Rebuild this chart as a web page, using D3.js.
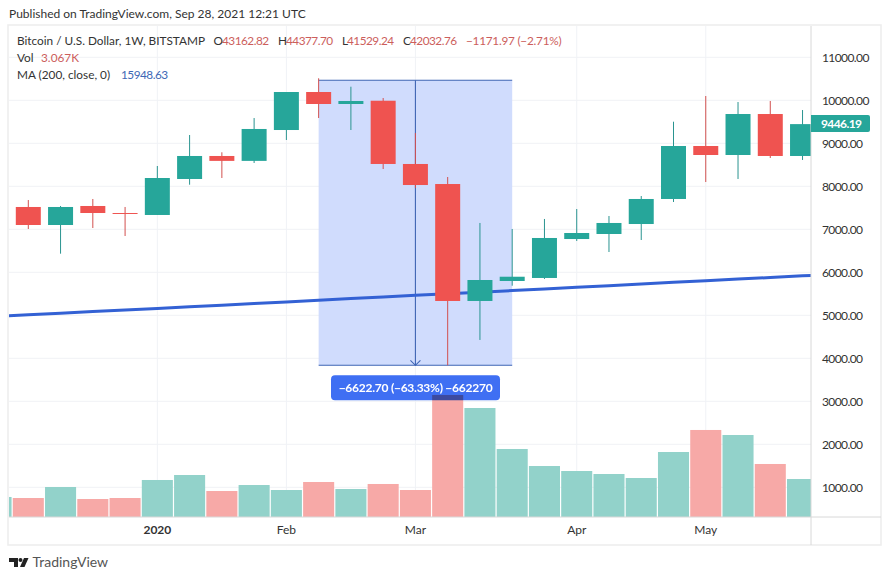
<!DOCTYPE html>
<html>
<head>
<meta charset="utf-8">
<script src="https://cdn.jsdelivr.net/npm/d3@7"></script>
<style>
  html, body { margin: 0; padding: 0; background: #fff; }
  svg { display: block; }
  text { font-family: Lato, "Open Sans", sans-serif; font-size: 12px; fill: #333; }
  .domain { display: none; }
</style>
</head>
<body>
<svg width="890" height="572"></svg>
<script>
const weeks = ["2019-11-25","2019-12-02","2019-12-09","2019-12-16","2019-12-23","2019-12-30","2020-01-06","2020-01-13","2020-01-20","2020-01-27","2020-02-03","2020-02-10","2020-02-17","2020-02-24","2020-03-02","2020-03-09","2020-03-16","2020-03-23","2020-03-30","2020-04-06","2020-04-13","2020-04-20","2020-04-27","2020-05-04","2020-05-11","2020-05-18","2020-05-25"]
const opens  = [7100,7519,7100,7542,7379,7333,8170,8705,8591,9309,10193,9914,9990,8519,8053,5333,5798,5868,6774,6891,7123,7705,8937,8728,9681,8705]
const highs  = [7700,7681,7542,7705,7519,8472,9193,8791,9588,10193,10512,10316,10053,9240,8216,7147,7007,7240,7472,7309,7774,9502,10100,9960,9984,9774]
const lows   = [6850,7007,6433,7030,6844,7333,8037,8193,8542,9077,9588,9309,8402,7960,3837,4427,5688,5845,6728,6472,6751,7635,8100,8170,8658,8612]
const closes = [7519,7100,7519,7379,7356,8193,8705,8591,9333,10193,9914,9984,8519,8030,5333,5821,5897,6798,6914,7147,7705,8937,8728,9681,8705,9446.19]
const volumes = [775,751,1007,728,751,1170,1286,914,1053,937,1123,960,1077,937,3147,2844,1891,1495,1379,1309,1216,1821,2333,2216,1542,1193]
const maLine = [4975,5010,5048,5086,5122,5160,5198,5236,5274,5312,5350,5388,5426,5464,5500,5538,5576,5614,5652,5690,5728,5766,5804,5842,5880,5918,5956]

const priceTicks = [11000,10000,9000,8000,7000,6000,5000,4000,3000,2000,1000]
const monthWeeks = ["2019-12-30","2020-01-27","2020-02-24","2020-03-30","2020-04-27"]
const monthNames = ["2020","Feb","Mar","Apr","May"]

const measureFrom = 10465
const measureTo = 3837
const measureWeeks = ["2020-02-03","2020-03-16"]
const measureLabel = "\u22126622.70 (\u221263.33%) \u2212662270"
const lastPrice = 9446.19

const up = "#26a69a", down = "#ef5350"
const upWick = "#2a9490", downWick = "#d2504f"
const upVol = "#92d2ca", downVol = "#f7a9a7"

const plotLeft = 9, plotRight = 811, plotTop = 26, volBottom = 517, axisBottom = 545, outerRight = 881
const barStep = 32.26

const svg = d3.select("svg")

const x = d3.scaleBand().domain(weeks).range([-20.09, -20.09 + 27 * barStep])
const cx = d => x(d) + x.bandwidth() / 2
const y = d3.scaleLinear().domain([11000, 1000]).range([57.3, 487.3])

svg.append("defs").append("clipPath").attr("id", "plot")
  .append("rect").attr("x", plotLeft).attr("y", plotTop).attr("width", plotRight - plotLeft).attr("height", volBottom - plotTop)

// title
svg.append("text").attr("x", 9).attr("y", 18).text("Published on TradingView.com, Sep 28, 2021 12:21 UTC")

// frame
svg.append("rect").attr("x", 8).attr("y", 25).attr("width", outerRight - 8).attr("height", axisBottom - 25)
  .attr("fill", "none").attr("stroke", "#eeeeee").attr("stroke-width", 1.6)

// grid
const grid = svg.append("g").attr("clip-path", "url(#plot)").attr("stroke", "#f0f2f6")
grid.selectAll(".h").data(priceTicks).enter().append("line")
  .attr("x1", plotLeft).attr("x2", plotRight).attr("y1", d => y(d)).attr("y2", d => y(d))
grid.selectAll(".v").data(monthWeeks).enter().append("line")
  .attr("x1", cx).attr("x2", cx).attr("y1", plotTop).attr("y2", volBottom)

const plot = svg.append("g").attr("clip-path", "url(#plot)")

// measure tool background
const mx0 = cx(measureWeeks[0]), mx1 = cx(measureWeeks[1]), mmid = (mx0 + mx1) / 2
plot.append("rect").attr("x", mx0).attr("width", mx1 - mx0)
  .attr("y", y(measureFrom)).attr("height", y(measureTo) - y(measureFrom)).attr("fill", "#d0dcfd")

const measure = plot.append("g").attr("stroke", "#3f66b4").attr("fill", "none").attr("stroke-width", 1.1)
measure.selectAll("line").data([measureFrom, measureTo]).enter().append("line")
  .attr("x1", mx0).attr("x2", mx1).attr("y1", d => y(d)).attr("y2", d => y(d))
measure.append("line").attr("x1", mmid).attr("x2", mmid).attr("y1", y(measureFrom)).attr("y2", y(measureTo))
measure.append("path").attr("d", d3.line()([[mmid - 5, y(measureTo) - 5], [mmid, y(measureTo)], [mmid + 5, y(measureTo) - 5]]))

// measure label sits under the volume bars
plot.append("rect").attr("x", 331).attr("y", y(measureTo) + 10).attr("width", 169).attr("height", 25).attr("rx", 4).attr("fill", "#3f6ff3")
plot.append("text").attr("x", 415.5).attr("y", y(measureTo) + 27).attr("text-anchor", "middle")
  .style("fill", "#fff").style("font-weight", 700).style("letter-spacing", "-0.25px").text(measureLabel)

// volume
plot.selectAll(".vol").data(volumes).enter().append("rect")
  .attr("x", (d, i) => x(weeks[i]) + 0.6)
  .attr("width", x.bandwidth() - 1.2)
  .attr("y", d => y(d))
  .attr("height", d => volBottom - y(d))
  .attr("fill", (d, i) => closes[i] >= opens[i] ? upVol : downVol)
  .style("mix-blend-mode", "multiply")

// moving average
plot.append("path").datum(maLine)
  .attr("d", d3.line().x((d, i) => cx(weeks[i])).y(d => y(d)))
  .attr("fill", "none").attr("stroke", "#3361d4").attr("stroke-width", 3)

// candles
const candles = plot.selectAll(".candle").data(opens).enter().append("g")
candles.append("line")
  .attr("x1", (d, i) => cx(weeks[i])).attr("x2", (d, i) => cx(weeks[i]))
  .attr("y1", (d, i) => y(highs[i])).attr("y2", (d, i) => y(lows[i]))
  .attr("stroke", (d, i) => closes[i] >= d ? upWick : downWick)
candles.append("rect")
  .attr("x", (d, i) => cx(weeks[i]) - 12.5).attr("width", 25)
  .attr("y", (d, i) => y(Math.max(d, closes[i])))
  .attr("height", (d, i) => Math.abs(y(d) - y(closes[i])))
  .attr("fill", (d, i) => closes[i] >= d ? up : down)

// axes
svg.append("g").attr("stroke", "#d8d8d8").selectAll("line")
  .data([[plotRight, plotTop, plotRight, axisBottom], [plotLeft, volBottom, outerRight, volBottom]]).enter().append("line")
  .attr("x1", d => d[0]).attr("y1", d => d[1]).attr("x2", d => d[2]).attr("y2", d => d[3])

const yAxis = svg.append("g").attr("transform", `translate(${plotRight},0)`)
  .call(d3.axisRight(y).tickValues(priceTicks).tickSize(0).tickPadding(11).tickFormat(d3.format(".2f")))
yAxis.selectAll("text").style("font-family", "Lato").style("font-size", "12px").style("fill", "#333").style("letter-spacing", "-0.6px")

const xAxis = svg.append("g").attr("transform", `translate(0,${volBottom})`)
  .call(d3.axisBottom(x).tickValues(monthWeeks).tickSize(0).tickPadding(8)
    .tickFormat((d, i) => monthNames[i]))
xAxis.selectAll("text").style("font-family", "Lato").style("font-size", "12px").style("fill", "#333")
  .style("font-weight", (d, i) => i === 0 ? 700 : 400)

// last price tag
svg.append("path").attr("fill", up)
  .attr("d", `M${plotRight} ${y(lastPrice) - 9}H868a2 2 0 0 1 2 2V${y(lastPrice) + 6}a2 2 0 0 1 -2 2H${plotRight}Z`)
svg.append("text").attr("x", 821).attr("y", y(lastPrice) + 4)
  .style("fill", "#fff").style("font-weight", 700).style("letter-spacing", "-0.6px").text(d3.format(".2f")(lastPrice))

// legend
const red = "#cc5e5c", blue = "#3d68b5"
const legend = [
  [17, 45, "Bitcoin / U.S. Dollar, 1W, BITSTAMP", "#333", 0],
  [213.5, 45, "O", "#333", 0], [222, 45, "43162.82", red, -0.5],
  [278, 45, "H", "#333", 0], [286, 45, "44377.70", red, -0.5],
  [342, 45, "L", "#333", 0], [347, 45, "41529.24", red, -0.5],
  [403, 45, "C", "#333", 0], [410, 45, "42032.76", red, -0.5],
  [466, 45, "\u22121171.97 (\u22122.71%)", red, -0.25],
  [17, 62, "Vol", "#333", 0], [41, 62, "3.067K", red, 0],
  [17, 79, "MA (200, close, 0)", "#333", 0], [121, 79, "15948.63", blue, -0.5]
]
svg.selectAll(".legend").data(legend).enter().append("text")
  .attr("x", d => d[0]).attr("y", d => d[1]).style("fill", d => d[3])
  .style("font-size", "11.8px").style("letter-spacing", d => d[4] + "px").text(d => d[2])

// logo
const logo = svg.append("g").attr("fill", "#222")
logo.append("path").attr("d", "M9 558H18V567H14V562H9Z")
logo.append("circle").attr("cx", 20.5).attr("cy", 560).attr("r", 2)
logo.append("path").attr("d", "M24 558H28.5L24.5 567H20Z")
svg.append("text").attr("x", 32.5).attr("y", 567).style("font-size", "14px").style("fill", "#555").text("TradingView")
</script>
</body>
</html>
